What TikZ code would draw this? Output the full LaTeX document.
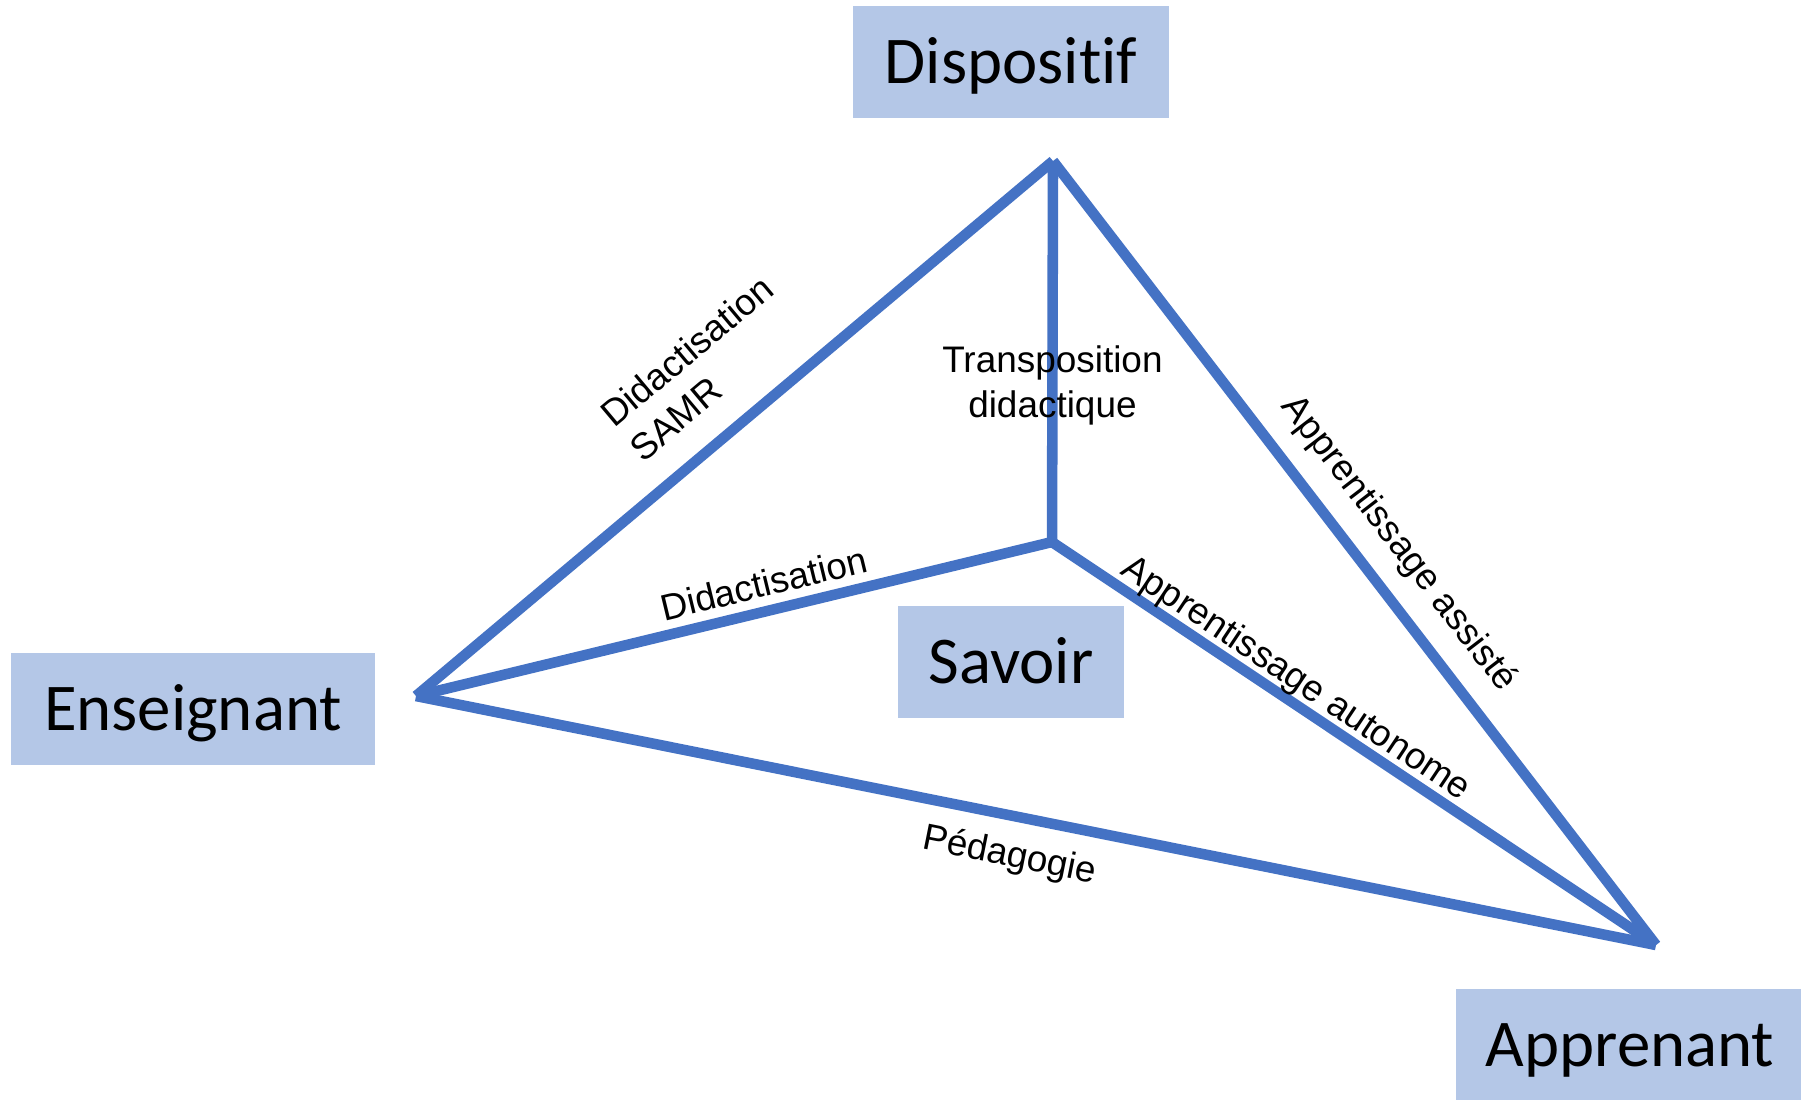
\documentclass[tikz,border=0pt]{standalone}
\usepackage{fontspec}
\setmainfont{Liberation Sans}
\newfontfamily\boxfont[Ligatures={NoCommon,NoContextual}, Contextuals=NoAlternate]{Carlito}
\usetikzlibrary{positioning}
\definecolor{boxblue}{HTML}{B4C7E7}
\definecolor{lineblue}{HTML}{4472C4}

\begin{document}
\begin{tikzpicture}[
            x=0.01cm, y=-0.01cm,
            pole/.style={rectangle, fill=boxblue, inner sep=0pt,
            minimum height=1.12cm, text height=12.2pt, text depth=0pt,
            font=\boxfont\fontsize{19}{23}\selectfont},
            side/.style={draw=lineblue, line width=3pt},
            lbl/.style={font=\fontsize{10.5}{12.8}\selectfont, inner sep=0pt}
        ]
\useasboundingbox (0,0) rectangle (1801,1099);

% ----- Sommets -----
            \coordinate (top) at (1053,161);
            \coordinate (ens-v) at (416,696);
            \coordinate (sav-v) at (1052,542);
            \coordinate (app-v) at (1656,945);

% ----- Pôles -----
            \node[pole, minimum width=3.15cm] (disp) at (1011,62) {Dispositif};
            \node[pole, minimum width=3.63cm] (ens) at (193,709) {Enseignant};
            \node[pole, minimum width=2.26cm] (sav) at (1011,662) {Savoir};
            \node[pole, minimum width=3.48cm] (app) at (1630,1045) {Apprenant};

% ----- Côtés -----
            \draw[side] (ens-v) -- node[lbl, sloped, above=7.5pt, pos=0.516, align=left] {Didactisation\\SAMR} (top);
            \draw[side] (top) -- node[lbl, pos=0.59, align=center] {Transposition\\didactique} (sav-v);
            \draw[side] (top) -- node[lbl, sloped, above=5pt, pos=0.52] {Apprentissage assisté} (app-v);
            \draw[side] (ens-v) -- node[lbl, sloped, above=2.5pt, pos=0.557] {Didactisation} (sav-v);
            \draw[side] (sav-v) -- node[lbl, sloped, above=-0.5pt, pos=0.384] {Apprentissage autonome} (app-v);
            \draw[side] (ens-v) -- node[lbl, sloped, below=5pt, pos=0.485] {Pédagogie} (app-v);

        \end{tikzpicture}
\end{document}
